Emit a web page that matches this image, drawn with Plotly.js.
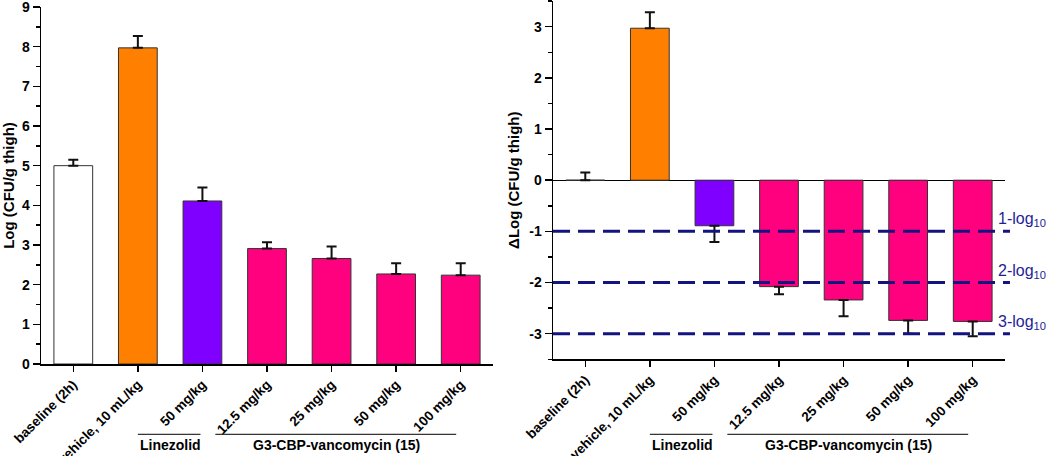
<!DOCTYPE html>
<html>
<head>
<meta charset="utf-8">
<script src="https://cdn.plot.ly/plotly-3.0.1.min.js"></script>
<style>
  html, body { margin: 0; padding: 0; background: #fff; }
  #chart { width: 1050px; height: 456px; }
</style>
</head>
<body>
<div id="chart"></div>
<script>
  // groups on the x axis (same for both panels)
  const xPos = [0, 1, 2, 3, 4, 5, 6];
  const xLabels = ["baseline (2h)", "vehicle, 10 mL/kg", "50 mg/kg", "12.5 mg/kg", "25 mg/kg", "50 mg/kg", "100 mg/kg"];
  const barColors = ["#FFFFFF", "#FF8000", "#8000FF", "#FF007F", "#FF007F", "#FF007F", "#FF007F"];

  // left panel: Log (CFU/g thigh)
  const logCfu = [5.0, 7.97, 4.11, 2.91, 2.66, 2.27, 2.24];
  const logCfuErr = [0.15, 0.30, 0.34, 0.16, 0.30, 0.27, 0.30];

  // right panel: change vs baseline
  const deltaLog = [0, 2.97, -0.89, -2.08, -2.34, -2.74, -2.76];
  const deltaLogErr = [0.15, 0.31, 0.32, 0.15, 0.32, 0.26, 0.29];

  // right y ticks, written with a plain hyphen like the original
  const deltaTicks = [-3, -2, -1, 0, 1, 2, 3];
  const deltaTickText = ["-3", "-2", "-1", "0", "1", "2", "3"];

  // reduction thresholds on the right panel
  const logDrops = [-1, -2, -3];
  const logDropLabels = ["1-log<sub>10</sub>", "2-log<sub>10</sub>", "3-log<sub>10</sub>"];

  // bracket groups below the x labels
  const groupFrom = [1.0, 2.2];
  const groupTo = [1.97, 5.93];
  const groupMid = [1.5, 4.07];
  const groupNames = ["Linezolid", "G3-CBP-vancomycin (15)"];

  const FONT = "Liberation Sans, Arial, sans-serif";
  const ink = "#000";
  const navy = "#14147F";

  // one-sided error bars: up for positive bars, down for negative ones
  function upErr(vals, err) { return vals.map((v, i) => (v >= 0 ? err[i] : 0)); }
  function downErr(vals, err) { return vals.map((v, i) => (v < 0 ? err[i] : 0)); }

  function barTrace(vals, err, xa, ya) {
    return {
      x: xPos, y: vals, type: "bar", xaxis: xa, yaxis: ya, width: 0.6,
      marker: { color: barColors, line: { color: "#333", width: 1 } },
      error_y: {
        type: "data", symmetric: false,
        array: upErr(vals, err), arrayminus: downErr(vals, err),
        color: "#111", thickness: 2, width: 5
      },
      hoverinfo: "skip", showlegend: false
    };
  }

  const traces = [
    barTrace(logCfu, logCfuErr, "x", "y"),
    barTrace(deltaLog, deltaLogErr, "x2", "y2")
  ];

  const xCommon = {
    range: [-0.5, 6.5], tickvals: xPos, ticktext: xLabels, tickangle: -45,
    showline: true, linecolor: ink, linewidth: 1.5, ticks: "outside", ticklen: 6,
    tickwidth: 1.5, tickcolor: ink, showgrid: false, zeroline: false, fixedrange: true,
    tickfont: { family: FONT, size: 13.5, color: ink, weight: "bold" }
  };
  const yCommon = {
    showline: true, linecolor: ink, linewidth: 1.5, ticks: "outside", ticklen: 7,
    tickwidth: 1.5, tickcolor: ink, showgrid: false, dtick: 1, ticklabeloverflow: "allow",
    minor: { tickmode: "linear", tick0: 0, dtick: 0.5, ticks: "outside", ticklen: 4, tickcolor: ink, tickwidth: 1.5 },
    tickfont: { family: FONT, size: 14, color: ink, weight: "bold" },
    title: { font: { family: FONT, size: 15, color: ink, weight: "bold" }, standoff: 6 }
  };

  const shapes = [];
  const annotations = [];

  logDrops.forEach((v, i) => {
    shapes.push({
      type: "line", xref: "x2 domain", yref: "y2", x0: 0, x1: 1.011, y0: v, y1: v,
      line: { color: navy, width: 3, dash: "17px,8px" }
    });
    annotations.push({
      xref: "x2 domain", yref: "y2", x: 0.98, y: v, xanchor: "left", yanchor: "bottom",
      yshift: 0, showarrow: false, text: logDropLabels[i],
      font: { family: FONT, size: 16, color: "#1E1E96" }
    });
  });

  ["x", "x2"].forEach((xa) => {
    groupNames.forEach((name, i) => {
      shapes.push({
        type: "line", xref: xa, yref: "paper", x0: groupFrom[i], x1: groupTo[i],
        y0: 0.0476, y1: 0.0476, line: { color: ink, width: 1 }
      });
      annotations.push({
        xref: xa, yref: "paper", x: groupMid[i], y: 0.024, yanchor: "middle",
        showarrow: false, text: name, font: { family: FONT, size: 14, color: ink, weight: "bold" }
      });
    });
  });

  const layout = {
    width: 1050, height: 456,
    margin: { l: 0, r: 0, t: 0, b: 0 },
    paper_bgcolor: "#fff", plot_bgcolor: "#fff",
    font: { family: FONT, color: ink },
    showlegend: false,
    xaxis: Object.assign({}, xCommon, { domain: [0.03905, 0.46952], anchor: "y" }),
    xaxis2: Object.assign({}, xCommon, { domain: [0.52667, 0.95714], anchor: "y2" }),
    yaxis: Object.assign({}, yCommon, {
      domain: [0.20175, 0.98465], range: [0, 9], anchor: "x", zeroline: false,
      title: Object.assign({}, yCommon.title, { text: "Log (CFU/g thigh)" })
    }),
    yaxis2: Object.assign({}, yCommon, {
      domain: [0.21206, 0.99759], range: [-3.5, 3.5], anchor: "x2",
      tickmode: "array", tickvals: deltaTicks, ticktext: deltaTickText,
      zeroline: true, zerolinecolor: ink, zerolinewidth: 1.2,
      title: Object.assign({}, yCommon.title, { text: "ΔLog (CFU/g thigh)" })
    }),
    shapes: shapes,
    annotations: annotations
  };

  Plotly.newPlot("chart", traces, layout, { displayModeBar: false, staticPlot: true });
</script>
</body>
</html>
